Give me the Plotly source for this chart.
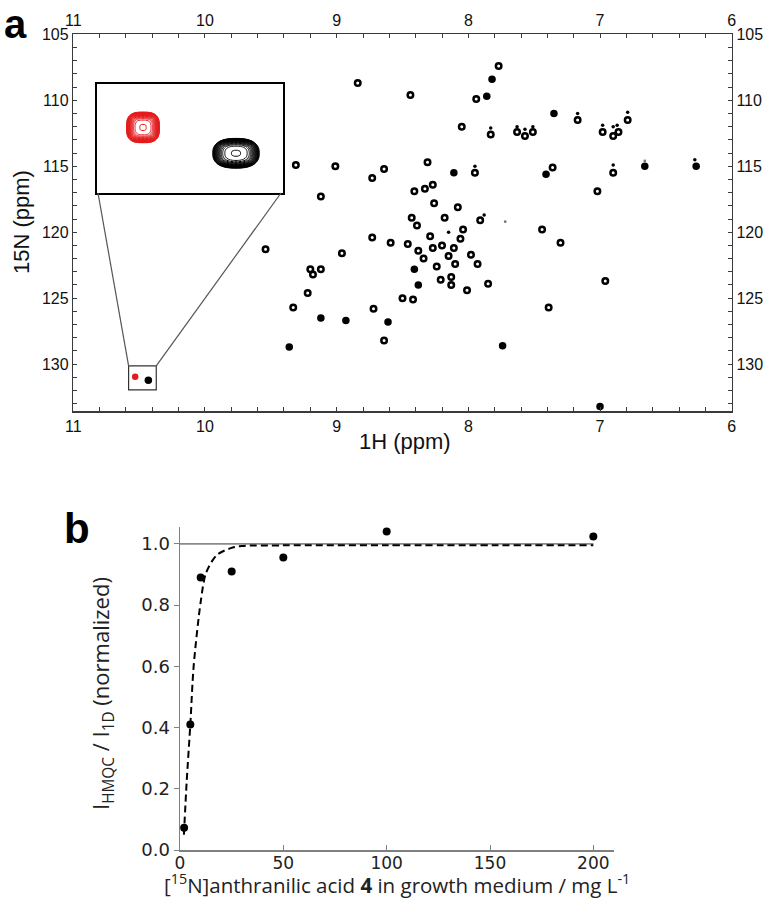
import numpy as np
import plotly.graph_objects as go

# ---------------- Panel a: HMQC peak list (1H ppm, 15N ppm) ----------------
ring_h = [7.77, 8.84, 8.44, 7.94, 7.17, 8.05, 7.83, 7.63, 7.57, 7.51,
          9.31, 9.01, 8.64, 8.73, 8.31, 7.95, 7.36, 9.12, 8.41, 8.33,
          8.27, 8.26, 8.08, 8.43, 8.39, 8.18, 7.91, 7.44, 7.30, 8.73,
          8.59, 8.46, 8.29, 8.04, 8.06, 8.96, 8.38, 8.27, 8.20, 8.11,
          8.34, 8.15, 7.98, 8.10, 7.93, 8.24, 9.20, 9.18, 9.12, 8.13,
          8.21, 8.13, 8.01, 7.85, 9.22, 8.50, 8.42, 9.33, 8.72, 7.39,
          6.98, 6.90, 6.86, 6.79, 6.90, 7.02, 6.96, 9.54, 8.64]
ring_n = [107.4, 108.7, 109.6, 109.9, 111.5, 112.0, 112.6, 112.4, 112.7, 112.4,
          114.9, 115.0, 115.2, 115.9, 114.7, 115.5, 115.1, 117.3, 116.9, 116.7,
          116.4, 117.8, 118.1, 118.9, 119.5, 118.9, 119.1, 119.8, 120.8, 120.4,
          120.8, 120.9, 120.3, 119.8, 120.5, 121.6, 121.4, 121.2, 121.0, 121.2,
          122.0, 121.8, 121.7, 122.4, 122.4, 122.6, 122.8, 123.2, 122.8, 123.4,
          123.6, 124.0, 124.4, 123.9, 124.6, 125.0, 125.1, 125.7, 125.8, 125.7,
          112.4, 112.7, 112.4, 111.5, 115.5, 116.9, 123.7, 121.3, 128.2]

filled_h = [7.82, 7.86, 7.35, 8.11, 7.41, 8.41, 8.38, 6.66, 6.27, 7.74,
            9.12, 9.36, 8.93, 8.61, 7.00, 10.43]
filled_n = [108.4, 109.7, 111.0, 115.5, 115.6, 122.8, 124.0, 115.0, 115.0, 128.6,
            126.5, 128.7, 126.7, 126.8, 133.2, 131.22]

dot_h = [7.17, 7.83, 7.63, 7.57, 7.51, 7.95, 7.88, 8.15, 6.98, 6.90,
         6.87, 6.79, 6.90, 6.28]
dot_n = [111.0, 112.1, 112.0, 112.2, 112.0, 115.0, 118.7, 120.0, 111.9, 112.0,
         111.9, 110.9, 114.9, 114.5]

faint_h = [7.72, 6.66]
faint_n = [119.2, 114.6]

labelled_h = [10.53]          # red (labelled) peak
labelled_n = [130.96]

# inset: the two peaks shown enlarged
inset_h = [10.53, 10.43]
inset_n = [130.96, 131.24]
inset_half_h = [0.018, 0.0253]
inset_half_n = [0.168, 0.163]
inset_shape = [3.0, 2.5]
inset_color = ["#e41a1c", "#000000"]

# zoom region marked on the spectrum
zoom_h = [10.58, 10.37]
zoom_n = [130.13, 131.95]

# ---------------- Panel b: labelling efficiency ----------------
conc = [2, 5, 10, 25, 50, 100, 200]
ratio = [0.073, 0.41, 0.89, 0.91, 0.955, 1.04, 1.024]
fit_x = [1.9, 3.2, 5.0, 6.6, 10.0, 12.6, 17.7, 24.5, 29.6, 50, 100, 200]
fit_y = [0.05, 0.22, 0.41, 0.60, 0.81, 0.905, 0.963, 0.986, 0.993, 0.995, 0.995, 0.995]
ref_x = [0, 200]
ref_y = [1.0, 1.0]

b_xticks = [0, 50, 100, 150, 200]
b_yticks = [0.0, 0.2, 0.4, 0.6, 0.8, 1.0]

# ---------------- layout geometry ----------------
W, H = 770, 901
A_XDOM = [73.3 / W, 731.7 / W]
A_YDOM = [1 - 411 / H, 1 - 34.3 / H]
A_XR = [11, 6]
A_YR = [133.55, 105]
INS_XDOM = [96.5 / W, 282.5 / W]
INS_YDOM = [1 - 193 / H, 1 - 84 / H]
INS_XR = [10.58, 10.38]
INS_YR = [131.67, 130.49]
B_XDOM = [180 / W, 614 / W]
B_YDOM = [1 - 850 / H, 1 - 527 / H]

HELV = "Liberation Sans, Arial, Helvetica, sans-serif"
DJV = "DejaVu Sans, sans-serif"
OPEN = "Open Sans, Lato, sans-serif"

fig = go.Figure()

# spectrum peaks
fig.add_trace(go.Scatter(x=ring_h, y=ring_n, mode="markers", xaxis="x", yaxis="y",
                         marker=dict(symbol="circle-open", size=5.5, color="black",
                                     line=dict(width=2.5, color="black")),
                         hoverinfo="skip", showlegend=False))
fig.add_trace(go.Scatter(x=filled_h, y=filled_n, mode="markers", xaxis="x", yaxis="y",
                         marker=dict(symbol="circle", size=7.5, color="black"),
                         hoverinfo="skip", showlegend=False))
fig.add_trace(go.Scatter(x=dot_h, y=dot_n, mode="markers", xaxis="x", yaxis="y",
                         marker=dict(symbol="circle", size=3.5, color="black"),
                         hoverinfo="skip", showlegend=False))
fig.add_trace(go.Scatter(x=faint_h, y=faint_n, mode="markers", xaxis="x", yaxis="y",
                         marker=dict(symbol="circle", size=2.8, color="#777777"),
                         hoverinfo="skip", showlegend=False))
fig.add_trace(go.Scatter(x=labelled_h, y=labelled_n, mode="markers", xaxis="x", yaxis="y",
                         marker=dict(symbol="circle", size=6.5, color="#e41a1c"),
                         hoverinfo="skip", showlegend=False))
# empty traces so that the top and right frame axes are drawn
fig.add_trace(go.Scatter(x=[], y=[], xaxis="x2", yaxis="y", mode="markers",
                         hoverinfo="skip", showlegend=False))
fig.add_trace(go.Scatter(x=[], y=[], xaxis="x", yaxis="y2", mode="markers",
                         hoverinfo="skip", showlegend=False))

# inset contour rendering of the two peaks
gx = np.linspace(INS_XR[1], INS_XR[0], 141)
gy = np.linspace(INS_YR[1], INS_YR[0], 111)
GX, GY = np.meshgrid(gx, gy)
for h0, n0, a, b, s, col in zip(inset_h, inset_n, inset_half_h, inset_half_n,
                                inset_shape, inset_color):
    rr = (np.abs((GX - h0) / a) ** s + np.abs((GY - n0) / b) ** s) ** (1.0 / s)
    z = np.minimum(rr ** 4, 2.0)
    fig.add_trace(go.Contour(x=gx, y=gy, z=np.round(z, 5).tolist(), xaxis="x3", yaxis="y3",
                             contours=dict(coloring="lines", start=0.0016, end=1.0, size=0.05,
                                           showlabels=False),
                             line=dict(width=1.0, smoothing=1.0),
                             colorscale=[[0, col], [1, col]], showscale=False,
                             hoverinfo="skip", showlegend=False))

# panel b
fig.add_trace(go.Scatter(x=ref_x, y=ref_y, mode="lines", xaxis="x4", yaxis="y4",
                         line=dict(color="#8a8a8a", width=1.6),
                         hoverinfo="skip", showlegend=False))
fig.add_trace(go.Scatter(x=fit_x, y=fit_y, mode="lines", xaxis="x4", yaxis="y4",
                         line=dict(color="black", width=2, dash="7px,4px", shape="spline",
                                   smoothing=0.8),
                         hoverinfo="skip", showlegend=False))
fig.add_trace(go.Scatter(x=conc, y=ratio, mode="markers", xaxis="x4", yaxis="y4",
                         marker=dict(symbol="circle", size=8, color="black"),
                         hoverinfo="skip", showlegend=False, cliponaxis=False))

# ---------------- axes ----------------
a_axis = dict(showgrid=False, zeroline=False, showline=True, linecolor="#3a3a3a",
              linewidth=1.5, ticks="inside", ticklen=4, tickwidth=1, tickcolor="#3a3a3a",
              tickfont=dict(family=HELV, size=16, color="#111111"), automargin=False)
a_xminor = dict(dtick=0.2, ticks="inside", ticklen=4, tickwidth=1, tickcolor="#3a3a3a",
                showgrid=False)
a_yminor = dict(dtick=1, ticks="inside", ticklen=4, tickwidth=1, tickcolor="#3a3a3a",
                showgrid=False)

fig.update_layout(
    xaxis=dict(**a_axis, domain=A_XDOM, range=A_XR, anchor="y", side="bottom",
               tick0=0, dtick=1, minor=a_xminor),
    xaxis2=dict(**a_axis, range=A_XR, anchor="y", overlaying="x", side="top",
                tick0=0, dtick=1, minor=a_xminor),
    yaxis=dict(**a_axis, domain=A_YDOM, range=A_YR, anchor="x", side="left",
               tick0=0, dtick=5, minor=a_yminor),
    yaxis2=dict(**a_axis, range=A_YR, anchor="x", overlaying="y", side="right",
                tick0=0, dtick=5, minor=a_yminor),
    xaxis3=dict(domain=INS_XDOM, range=INS_XR, anchor="y3", showgrid=False, zeroline=False,
                showline=True, mirror=True, linecolor="black", linewidth=2,
                showticklabels=False, ticks="", automargin=False),
    yaxis3=dict(domain=INS_YDOM, range=INS_YR, anchor="x3", showgrid=False, zeroline=False,
                showline=True, mirror=True, linecolor="black", linewidth=2,
                showticklabels=False, ticks="", automargin=False),
    xaxis4=dict(domain=B_XDOM, range=[0, 210], anchor="y4", showgrid=False, zeroline=False,
                showline=True, linecolor="#808080", linewidth=1.5, ticks="inside", ticklen=5,
                tickcolor="#808080", tickvals=b_xticks, ticktext=[str(v) for v in b_xticks],
                ticklabelstandoff=-3,
                tickfont=dict(family=DJV, size=17, color="#222222"), automargin=False),
    yaxis4=dict(domain=B_YDOM, range=[0, 1.055], anchor="x4", showgrid=False, zeroline=False,
                showline=True, linecolor="#808080", linewidth=1.5, ticks="outside", ticklen=5,
                tickcolor="#808080", tickvals=b_yticks, ticktext=[f"{v:.1f}" for v in b_yticks],
                tickfont=dict(family=DJV, size=18, color="#222222"), automargin=False),
)


def a_paper_x(h):
    return A_XDOM[0] + (h - A_XR[0]) / (A_XR[1] - A_XR[0]) * (A_XDOM[1] - A_XDOM[0])


def a_paper_y(n):
    return A_YDOM[0] + (n - A_YR[0]) / (A_YR[1] - A_YR[0]) * (A_YDOM[1] - A_YDOM[0])


shapes = [
    dict(type="rect", xref="x", yref="y", x0=zoom_h[0], x1=zoom_h[1], y0=zoom_n[0], y1=zoom_n[1],
         line=dict(color="#333333", width=1.2), fillcolor="rgba(0,0,0,0)"),
    dict(type="line", xref="paper", yref="paper", x0=INS_XDOM[0] + 1.5 / W, y0=INS_YDOM[0],
         x1=a_paper_x(zoom_h[0]), y1=a_paper_y(zoom_n[0]),
         line=dict(color="#555555", width=1.2)),
    dict(type="line", xref="paper", yref="paper", x0=INS_XDOM[1] - 1.5 / W, y0=INS_YDOM[0],
         x1=a_paper_x(zoom_h[1]), y1=a_paper_y(zoom_n[0]),
         line=dict(color="#555555", width=1.2)),
]

annotations = [
    dict(text="<b>a</b>", x=15 / W, y=1.0, xref="paper", yref="paper",
         showarrow=False, font=dict(family=HELV, size=40, color="black"),
         xanchor="center", yanchor="top"),
    dict(text="<b>b</b>", x=77 / W, y=1 - 528 / H, xref="paper", yref="paper",
         showarrow=False, font=dict(family=HELV, size=42, color="black"),
         xanchor="center", yanchor="middle"),
    dict(text="15N (ppm)", x=22 / W, y=1 - 222 / H, xref="paper", yref="paper",
         showarrow=False, textangle=-90, font=dict(family=HELV, size=22, color="#111111"),
         xanchor="center", yanchor="middle"),
    dict(text="1H (ppm)", x=405 / W, y=1 - 441 / H, xref="paper", yref="paper",
         showarrow=False, font=dict(family=HELV, size=22, color="#111111"),
         xanchor="center", yanchor="middle"),
    dict(text="I<sub>HMQC</sub> / I<sub>1D</sub> (normalized)", x=102 / W, y=1 - 693 / H,
         xref="paper", yref="paper", showarrow=False, textangle=-90,
         font=dict(family=OPEN, size=22, color="#222222"), xanchor="center", yanchor="middle"),
    dict(text="[<sup>15</sup>N]anthranilic acid <b>4</b> in growth medium / mg L<sup>-1</sup>",
         x=397 / W, y=0.0, xref="paper", yref="paper", showarrow=False,
         font=dict(family=OPEN, size=20.5, color="#222222"), xanchor="center", yanchor="bottom"),
]

fig.update_layout(width=W, height=H, margin=dict(l=0, r=0, t=0, b=0),
                  paper_bgcolor="white", plot_bgcolor="white", showlegend=False,
                  shapes=shapes, annotations=annotations)

fig.write_html("out.html",
               config={"displayModeBar": False, "staticPlot": True},
               post_script="document.body.style.margin='0px';"
                           "document.body.style.padding='0px';"
                           "document.body.style.overflow='hidden';")
